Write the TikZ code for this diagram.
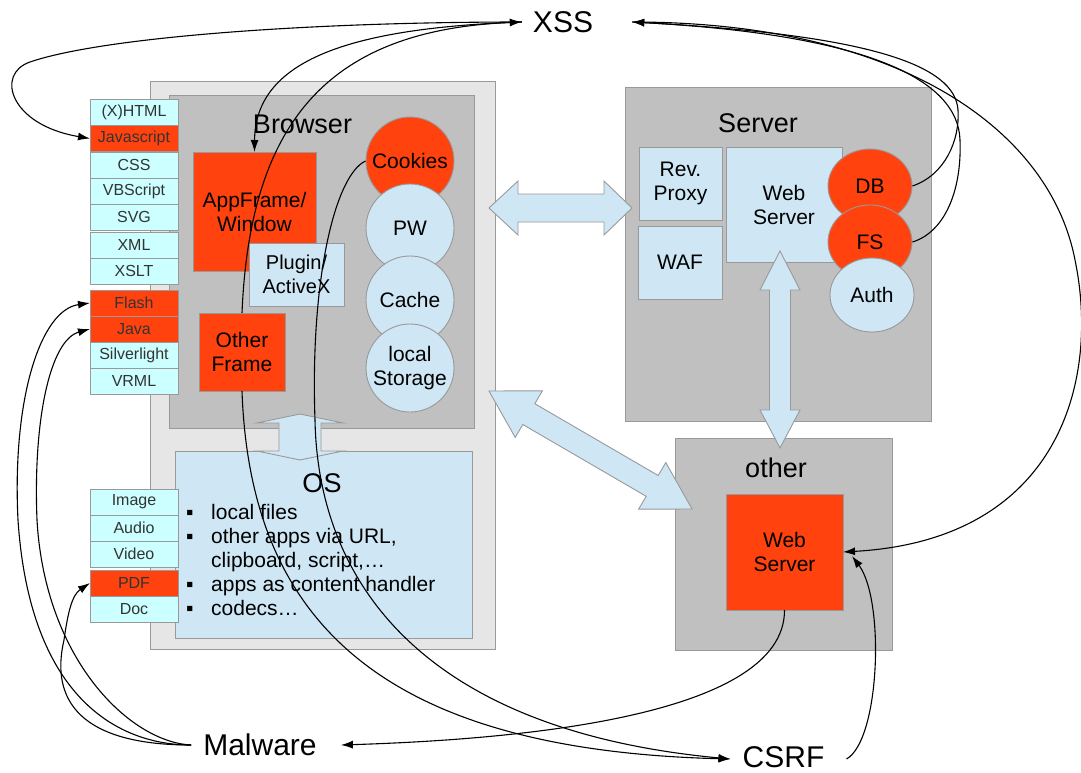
\documentclass[tikz,border=0pt]{standalone}
\usepackage{fontspec}
\setmainfont{Liberation Sans}
\usetikzlibrary{arrows.meta,shapes.geometric}
\definecolor{ored}{HTML}{FF420E}
\definecolor{pblue}{HTML}{CFE7F5}
\definecolor{scyan}{HTML}{CCFFFF}
\definecolor{mgray}{HTML}{C0C0C0}
\definecolor{lgray}{HTML}{E6E6E6}
\definecolor{bgray}{HTML}{999999}
\definecolor{tgray}{HTML}{333333}
\newcommand\stkfont{\fontsize{16}{18}\selectfont}
\newcommand\midfont{\fontsize{21}{24}\selectfont}
\newcommand\lblfont{\fontsize{27}{30}\selectfont}
\newcommand\bigfont{\fontsize{30}{34}\selectfont}
\begin{document}
\begin{tikzpicture}[x=1pt,y=-1pt,
  area/.style={draw=bgray, line width=0.9pt},
  box/.style={draw=bgray, line width=0.9pt, inner sep=0pt, outer sep=0pt, align=center},
  stk/.style={box, fill=scyan, minimum width=88pt, minimum height=26pt, font=\stkfont, text=tgray},
  stkred/.style={stk, fill=ored},
  redbox/.style={box, fill=ored, font=\midfont},
  bluebox/.style={box, fill=pblue, font=\midfont},
  circ/.style={circle, draw=bgray, line width=0.9pt, minimum size=88pt, inner sep=0pt, align=center, font=\midfont},
  ell/.style={ellipse, draw=bgray, line width=0.9pt, minimum width=84pt, minimum height=74pt, inner sep=0pt, font=\midfont},
  lbl/.style={inner sep=0pt, font=\lblfont},
  big/.style={inner sep=0pt, font=\bigfont},
  blockarrow/.style={draw=bgray, line width=0.9pt, fill=pblue, line join=miter},
  conn/.style={line width=1.1pt, -{Latex[length=12pt,width=8pt]}}
]
\useasboundingbox (0,0) rectangle (1081,773);
\fill[white] (0,0) rectangle (1081,773);

% Browser
\draw[area, fill=lgray] (150,81) rectangle (495,649);
\draw[area, fill=mgray] (169,95) rectangle (474,428);
\draw[area, fill=pblue] (175,451) rectangle (472,638);
\draw[blockarrow] (300,414) -- (343,423) -- (321,423) -- (321,451) -- (343,451) -- (300,460)
  -- (257,451) -- (279,451) -- (279,423) -- (257,423) -- cycle;
\node[lbl] (browser) at (302.5,124) {Browser};
\node[lbl] (os) at (322,483) {OS};
\node[anchor=base west, inner sep=0pt, font=\midfont] (oslist) at (186,519.5)
  {\begin{tabular}[t]{@{}p{25pt}@{}l@{}}▪&local files\\▪&other apps via URL,\\&clipboard, script,…\\▪&apps as content handler\\▪&codecs…\end{tabular}};

\node[redbox, minimum width=123pt, minimum height=119pt] (app) at (254.5,211.5) {AppFrame/\\Window};
\node[bluebox, minimum width=95pt, minimum height=63pt, font=\fontsize{20}{24}\selectfont] (plugin) at (296.5,274.5) {Plugin/\\ActiveX};
\node[redbox, minimum width=86pt, minimum height=78pt] (oframe) at (242,352) {Other\\Frame};

\node[circ, fill=ored] (cookies) at (410,161) {Cookies};
\node[circ, fill=pblue] (pw) at (410,228) {PW};
\node[circ, fill=pblue] (cache) at (410,300) {Cache};
\node[circ, fill=pblue] (storage) at (410,368) {local\\Storage};

% stacks
\node[stk] (html) at (134,112) {(X)HTML};
\node[stkred] (js) at (134,138.5) {Javascript};
\node[stk] (css) at (134,165) {CSS};
\node[stk] (vbs) at (134,191) {VBScript};
\node[stk] (svg) at (134,217) {SVG};
\node[stk] (xml) at (134,245) {XML};
\node[stk] (xslt) at (134,271) {XSLT};
\node[stkred] (flash) at (134,303) {Flash};
\node[stkred] (java) at (134,329) {Java};
\node[stk] (silver) at (134,355) {Silverlight};
\node[stk] (vrml) at (134,381) {VRML};
\node[stk] (image) at (134,502) {Image};
\node[stk] (audio) at (134,528) {Audio};
\node[stk] (video) at (134,554) {Video};
\node[stkred] (pdf) at (134,583) {PDF};
\node[stk] (doc) at (134,609) {Doc};

% Server
\draw[area, fill=mgray] (625.5,87) rectangle (931,421);
\node[lbl] (server) at (758,123) {Server};
\node[bluebox, minimum width=83pt, minimum height=73pt] (proxy) at (680.5,183.5) {Rev.\\Proxy};
\node[bluebox, minimum width=84pt, minimum height=73pt] (waf) at (680,262.5) {WAF};
\node[bluebox, minimum width=116pt, minimum height=115pt] (sws) at (784,204.5) {Web\\Server};
\node[ell, fill=ored] (db) at (870,186) {DB};
\node[ell, fill=ored] (fs) at (870,242) {FS};
\node[ell, fill=pblue] (auth) at (872,295) {Auth};

% other
\draw[area, fill=mgray] (675,438) rectangle (892,650);
\node[lbl] (other) at (776,468) {other};
\node[redbox, minimum width=117pt, minimum height=116pt] (ows) at (784.5,552) {Web\\Server};

% block arrows
\draw[blockarrow] (489,208) -- (518,181) -- (518,194) -- (604,194) -- (604,181) -- (632,208)
  -- (604,235) -- (604,222) -- (518,222) -- (518,235) -- cycle;
\draw[blockarrow] (780,251) -- (800,290) -- (790.5,290) -- (790.5,410) -- (800,410) -- (780,448)
  -- (760,410) -- (769.5,410) -- (769.5,290) -- (760,290) -- cycle;
\draw[blockarrow] (489,391) -- (542.4,390.8) -- (534.8,403.7) -- (658.2,475.5) -- (665.8,462.6)
  -- (692,509) -- (638.6,509.2) -- (646.2,496.3) -- (522.8,424.5) -- (515.2,437.4) -- cycle;

% labels
\node[big] (xss) at (563,22) {XSS};
\node[big] (mal) at (260,745) {Malware};
\node[big] (csrf) at (783.5,757.5) {CSRF};
\coordinate (xssL) at ([xshift=-11pt]xss.west);
\coordinate (xssR) at ([xshift=39pt]xss.east);
\coordinate (malL) at ([xshift=-12pt]mal.west);
\coordinate (malR) at ([xshift=24pt]mal.east);
\coordinate (csrfL) at ([xshift=-12pt,yshift=-1.5pt]csrf.west);
\coordinate (csrfR) at ([xshift=22pt,yshift=-1.5pt]csrf.east);
\coordinate (owsR) at ([shift={(9,4)}]ows.east);

% connectors
\draw[conn] (xssL) .. controls (300,22) and (100,38) .. (30,62) .. controls (-5,74) and (10,125) .. (js.west);
\draw[conn] (xssL) .. controls (350,28) and (255,60) .. (app.north);
\draw[conn] (oframe.north) .. controls (250,120) and (330,30) .. (xssL);
\draw[conn] (oframe.south) .. controls (250,620) and (380,750) .. (csrfL);
\draw[conn] (cookies.west) .. controls (335,175) and (310,280) .. (315,420) .. controls (318,580) and (420,730) .. (csrfL);
\draw[conn] (db.east) .. controls (945,175) and (960,140) .. (958,110) .. controls (955,65) and (870,35) .. (xssR);
\draw[conn] (fs.east) .. controls (945,232) and (962,190) .. (960,140) .. controls (958,80) and (870,35) .. (xssR);
\draw[conn] (xssR) .. controls (900,22) and (1050,130) .. (1075,260) .. controls (1100,380) and (1060,540) .. (ows.east);
\draw[conn] (csrfR) .. controls (880,740) and (885,600) .. (owsR);
\draw[conn] (ows.south) .. controls (785,720) and (500,740) .. (malR);
\draw[conn] (malL) .. controls (120,745) and (30,700) .. (18,520) .. controls (12,400) and (40,310) .. (flash.west);
\draw[conn] (malL) .. controls (130,742) and (45,660) .. (37,520) .. controls (33,420) and (50,340) .. (java.west);
\draw[conn] (malL) .. controls (80,745) and (50,700) .. (64,640) .. controls (68,612) and (72,595) .. (pdf.west);
\end{tikzpicture}
\end{document}
